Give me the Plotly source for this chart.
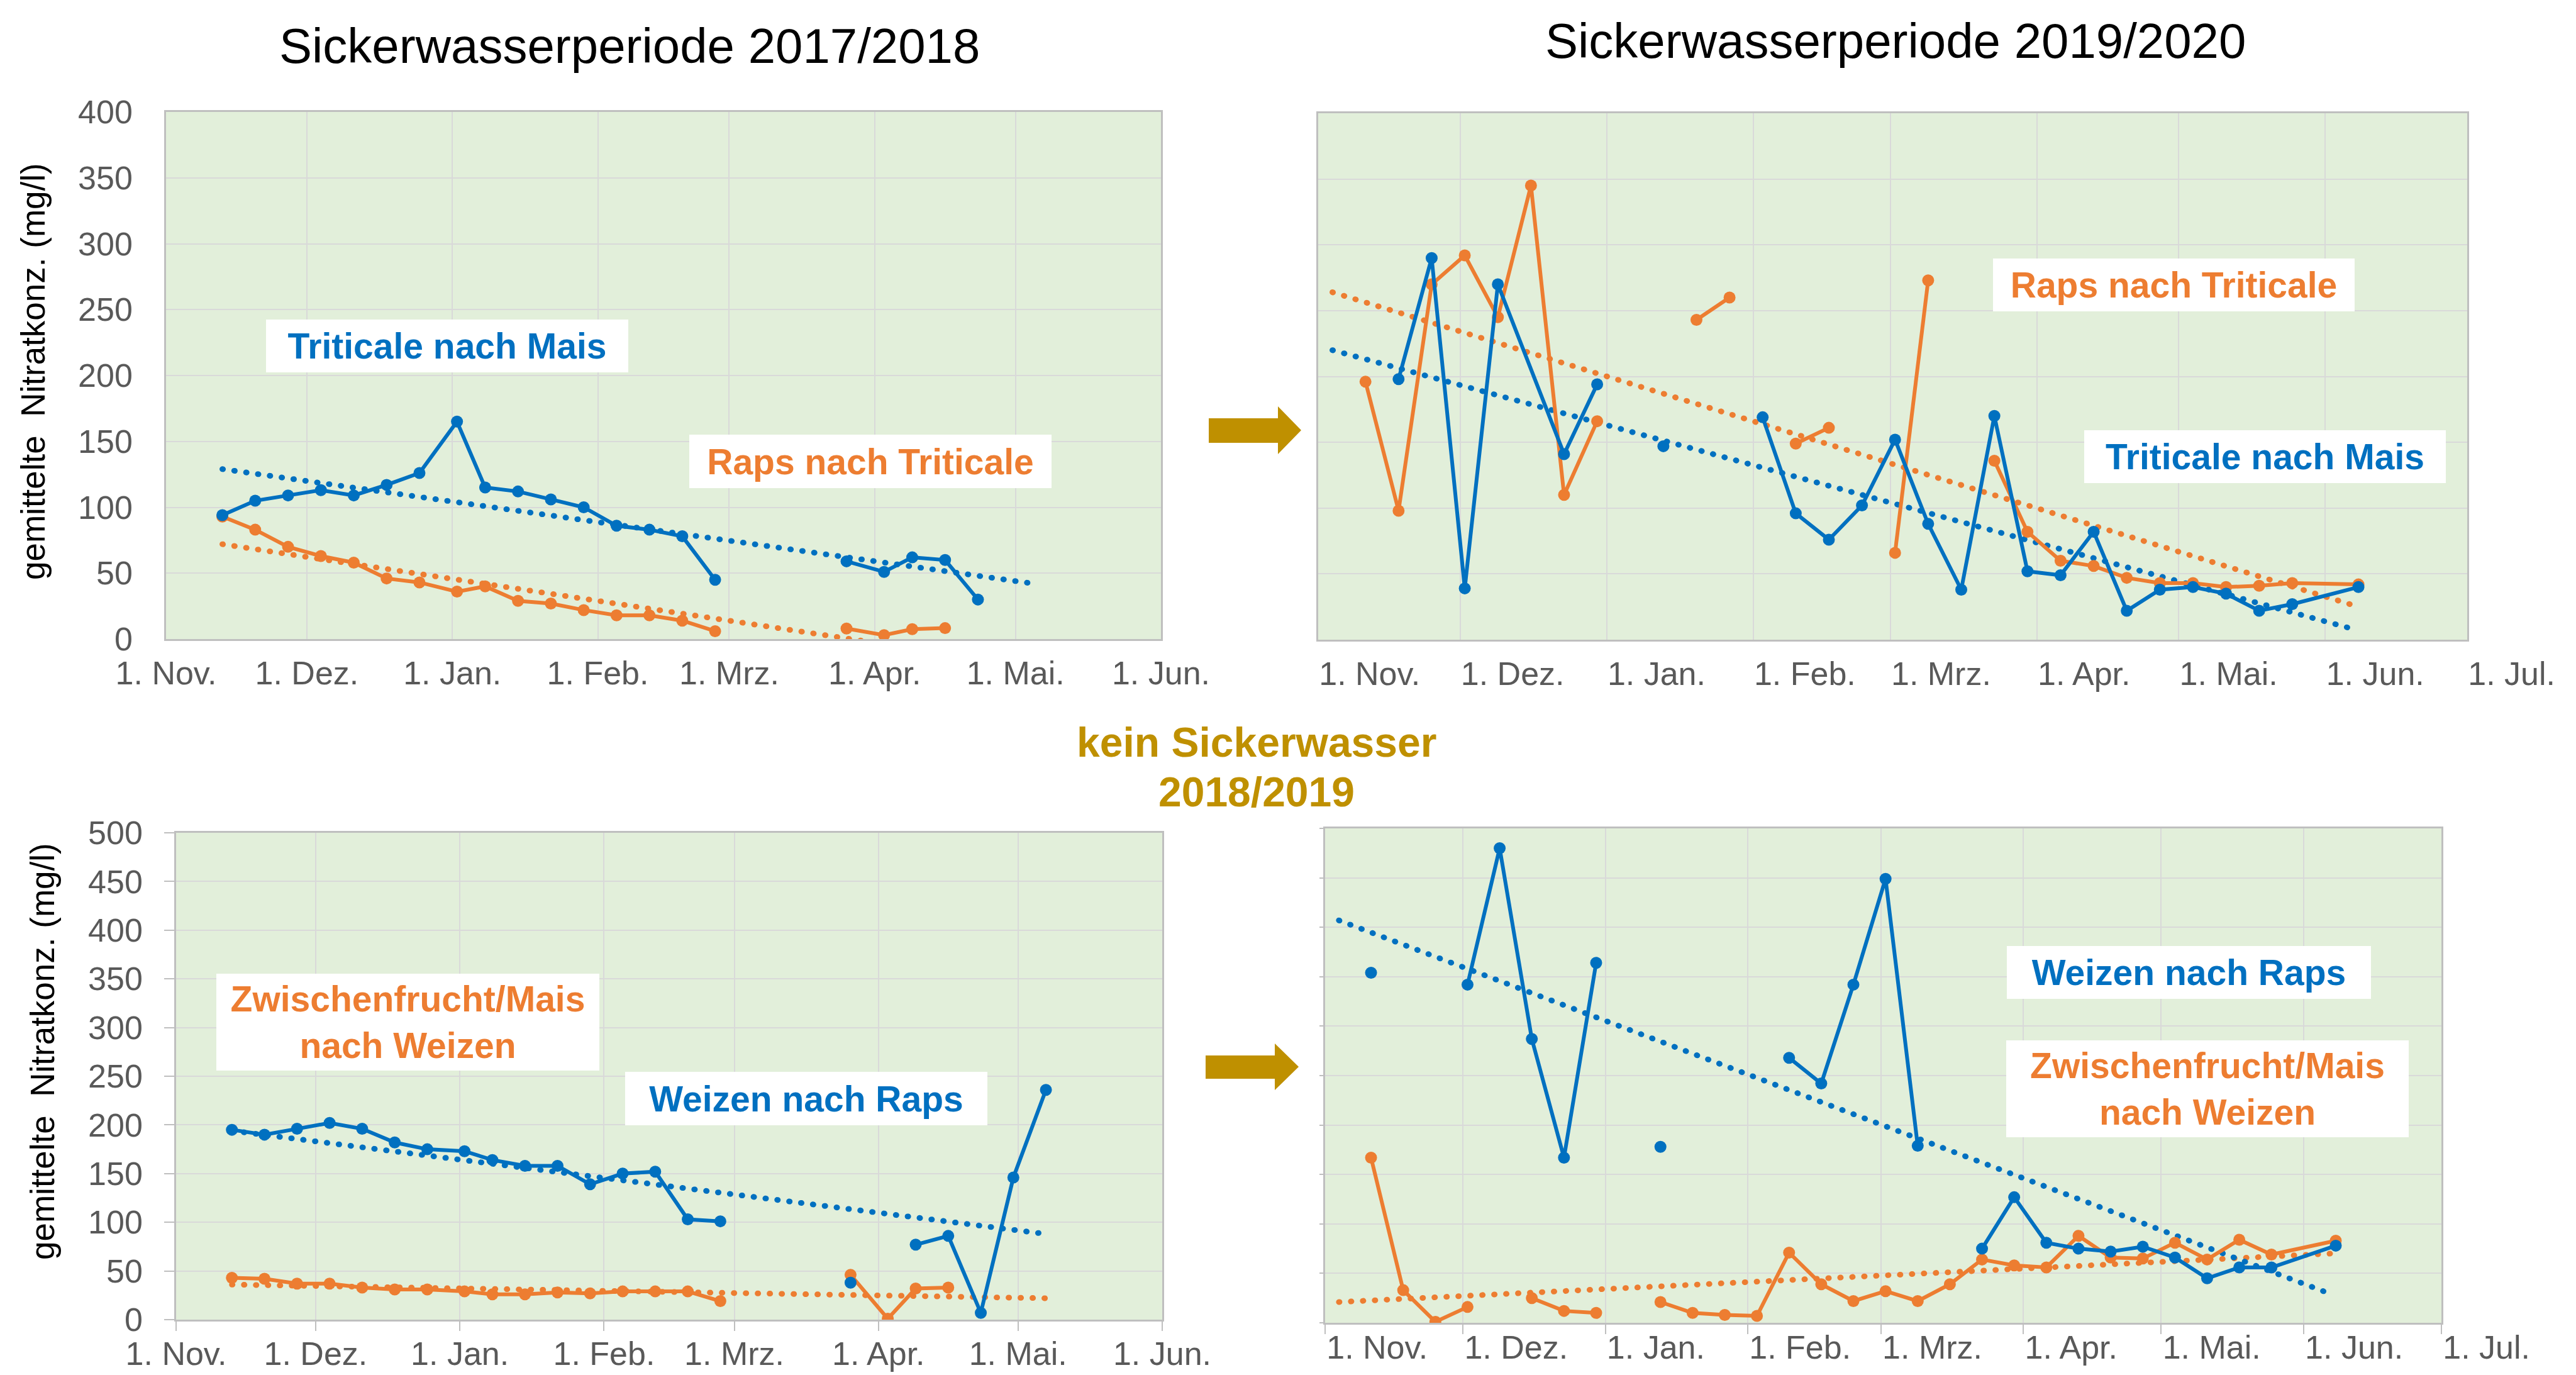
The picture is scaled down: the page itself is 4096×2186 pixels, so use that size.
import plotly.graph_objects as go

W, H = 4096, 2186
FONT = "Liberation Sans, Arial, sans-serif"
BLUE = "#0070C0"
ORANGE = "#ED7D31"
GOLD = "#BF9000"
GRID = "#D9D9D9"
AXLINE = "#BFBFBF"
TICKC = "#595959"
PLOTBG = "#E2EFDA"

# ---------------- data: Sickerwasserperiode 2017/2018 ----------------
dates_1718 = ["2017-11-13", "2017-11-20", "2017-11-27", "2017-12-04", "2017-12-11",
              "2017-12-18", "2017-12-25", "2018-01-02", "2018-01-08", "2018-01-15",
              "2018-01-22", "2018-01-29", "2018-02-05", "2018-02-12", "2018-02-19",
              "2018-02-26", "2018-03-05", "2018-03-12", "2018-03-19", "2018-03-26",
              "2018-04-03", "2018-04-09", "2018-04-16", "2018-04-23", "2018-04-30",
              "2018-05-07"]

p1_triticale = [94, 105, 109, 113, 109, 117, 126, 165, 115, 112, 106, 100, 86, 83, 78, 45,
                None, None, None, 59, 51, 62, 60, 30, None, None]
p1_raps = [93, 83, 70, 63, 58, 46, 43, 36, 40, 29, 27, 22, 18, 18, 14, 6,
           None, None, None, 8, 3, 7.5, 8.3, None, None, None]
p1_trend_dates = ["2017-11-13", "2018-05-05"]
p1_trend_triticale = [129, 42]
p1_trend_raps = [72, -21]

p3_weizen = [195, 190, 196, 202, 196, 182, 175, 173, 164, 158, 158, 139, 150, 152, 103, 101,
             None, None, None, 38, None, 77, 86, 7, 146, 236]
p3_zwf = [43, 42, 37, 37, 33, 31, 31, 29, 26, 26, 28, 27, 29, 29, 29, 19,
          None, None, None, 46, 1, 32, 33, None, None, None]
p3_trend_dates = ["2017-11-13", "2018-05-07"]
p3_trend_weizen = [194, 88]
p3_trend_zwf = [36, 22]

# ---------------- data: Sickerwasserperiode 2019/2020 ----------------
dates_1920 = ["2019-11-11", "2019-11-18", "2019-11-25", "2019-12-02", "2019-12-09",
              "2019-12-16", "2019-12-23", "2019-12-30", "2020-01-06", "2020-01-13",
              "2020-01-20", "2020-01-27", "2020-02-03", "2020-02-10", "2020-02-17",
              "2020-02-24", "2020-03-02", "2020-03-09", "2020-03-16", "2020-03-23",
              "2020-03-30", "2020-04-06", "2020-04-13", "2020-04-20", "2020-04-27",
              "2020-05-04", "2020-05-11", "2020-05-18", "2020-05-25", "2020-06-08"]

p2_raps = [196, 98, 270, 292, 245, 345, 110, 166, None, None, 243, 260, None, 149, 161,
           None, 66, 273, None, 136, 82, 60, 56, 47, 43, 43, 40, 41, 43, 42]
p2_triticale_dates = ["2019-11-18", "2019-11-25", "2019-12-02", "2019-12-09", "2019-12-23",
                      "2019-12-30", "2020-01-06", "2020-01-13", "2020-01-20", "2020-01-27",
                      "2020-02-03", "2020-02-10", "2020-02-17", "2020-02-24", "2020-03-02",
                      "2020-03-09", "2020-03-16", "2020-03-23", "2020-03-30", "2020-04-06",
                      "2020-04-13", "2020-04-20", "2020-04-27", "2020-05-04", "2020-05-11",
                      "2020-05-18", "2020-05-25", "2020-06-08"]
p2_triticale = [198, 290, 39, 270, 141, 194, None, 147, None, None, 169, 96, 76, 102, 152,
                88, 38, 170, 52, 49, 82, 22, 38, 40, 35, 22, 27, 40]
p2_trend_dates_raps = ["2019-11-04", "2020-06-08"]
p2_trend_raps = [264, 25]
p2_trend_dates_triticale = ["2019-11-04", "2020-06-07"]
p2_trend_triticale = [220, 8]

p4_weizen = [354, None, None, 342, 480, 287, 167, 364, None, 178, None, None, None, 268, 242,
             342, 449, 179, None, 75, 127, 81, 75, 72, 77, 66, 45, 56, 56, 78]
p4_zwf = [167, 33, 1, 16, None, 25, 12, 10, None, 21, 10, 8, 7, 71, 39,
          22, 32, 22, 39, 64, 58, 56, 88, 66, 65, 81, 64, 84, 69, 83]
p4_trend_dates = ["2019-11-04", "2020-06-07"]
p4_trend_weizen = [407, 29]
p4_trend_zwf = [21, 70]

# ---------------- axis ticks ----------------
months_1718 = ["2017-11-01", "2017-12-01", "2018-01-01", "2018-02-01", "2018-03-01",
               "2018-04-01", "2018-05-01", "2018-06-01"]
months_1920 = ["2019-11-01", "2019-12-01", "2020-01-01", "2020-02-01", "2020-03-01",
               "2020-04-01", "2020-05-01", "2020-06-01", "2020-07-01"]
month_labels = ["1. Nov.", "1. Dez.", "1. Jan.", "1. Feb.", "1. Mrz.", "1. Apr.",
                "1. Mai.", "1. Jun.", "1. Jul."]
yticks_400 = list(range(0, 401, 50))
yticks_500 = list(range(0, 501, 50))


def px(x):
    return x / W


def py(y):
    return 1 - y / H


fig = go.Figure()

TREND_DASH = "1px,18px"


def add_series(xa, ya, dates, vals, color):
    fig.add_trace(go.Scatter(x=dates, y=vals, xaxis=xa, yaxis=ya, mode="lines+markers",
                             line=dict(color=color, width=6), marker=dict(color=color, size=19),
                             connectgaps=False, showlegend=False, hoverinfo="skip"))


def add_trend(xa, ya, dates, vals, color):
    fig.add_trace(go.Scatter(x=dates, y=vals, xaxis=xa, yaxis=ya, mode="lines",
                             line=dict(color=color, width=9, dash=TREND_DASH),
                             showlegend=False, hoverinfo="skip"))


# panel 1
add_trend("x", "y", p1_trend_dates, p1_trend_raps, ORANGE)
add_trend("x", "y", p1_trend_dates, p1_trend_triticale, BLUE)
add_series("x", "y", dates_1718, p1_raps, ORANGE)
add_series("x", "y", dates_1718, p1_triticale, BLUE)
# panel 2
add_trend("x2", "y2", p2_trend_dates_raps, p2_trend_raps, ORANGE)
add_trend("x2", "y2", p2_trend_dates_triticale, p2_trend_triticale, BLUE)
add_series("x2", "y2", dates_1920, p2_raps, ORANGE)
add_series("x2", "y2", p2_triticale_dates, p2_triticale, BLUE)
# panel 3
add_trend("x3", "y3", p3_trend_dates, p3_trend_zwf, ORANGE)
add_trend("x3", "y3", p3_trend_dates, p3_trend_weizen, BLUE)
add_series("x3", "y3", dates_1718, p3_zwf, ORANGE)
add_series("x3", "y3", dates_1718, p3_weizen, BLUE)
# panel 4
add_trend("x4", "y4", p4_trend_dates, p4_trend_zwf, ORANGE)
add_trend("x4", "y4", p4_trend_dates, p4_trend_weizen, BLUE)
add_series("x4", "y4", dates_1920, p4_zwf, ORANGE)
add_series("x4", "y4", dates_1920, p4_weizen, BLUE)


def xaxis(domain, anchor, rng, months, ticks, pos):
    d = dict(domain=domain, anchor=anchor, type="date", range=rng, automargin=False,
             tickmode="array", tickvals=months, ticktext=month_labels[:len(months)],
             showgrid=True, gridcolor=GRID, gridwidth=1.5,
             showline=True, linecolor=AXLINE, linewidth=2.5, mirror=True,
             zeroline=False, tickfont=dict(family=FONT, size=52, color=TICKC),
             ticklabelposition=pos)
    if ticks:
        d.update(ticks="outside", ticklen=15, tickwidth=2, tickcolor=AXLINE, ticklabelstandoff=-8)
    else:
        d.update(ticks="", ticklabelstandoff=7)
    return d


def yaxis(domain, anchor, rng, vals, labels, ticklen):
    d = dict(domain=domain, anchor=anchor, range=rng, tickmode="array", tickvals=vals,
             automargin=False,
             showgrid=True, gridcolor=GRID, gridwidth=1.5,
             showline=True, linecolor=AXLINE, linewidth=2.5, mirror=True,
             zeroline=False, showticklabels=labels,
             tickfont=dict(family=FONT, size=52, color=TICKC))
    if ticklen:
        d.update(ticks="outside", ticklen=ticklen, tickwidth=2, tickcolor=AXLINE)
    else:
        d.update(ticks="")
    if labels:
        d.update(ticklabelstandoff=40 - ticklen)
    return d


fig.update_layout(
    template="none",
    width=W, height=H, margin=dict(l=0, r=0, t=0, b=0, pad=0, autoexpand=False),
    paper_bgcolor="white", plot_bgcolor=PLOTBG,
    font=dict(family=FONT),
    xaxis=xaxis([px(256), px(1838)], "y", ["2017-11-01", "2018-06-01"], months_1718, False, "outside"),
    yaxis=yaxis([py(1008), py(170)], "x", [0, 400], yticks_400, True, 0),
    xaxis2=xaxis([px(2088), px(3915)], "y2", ["2019-11-01", "2020-07-01"], months_1920, False, "outside right"),
    yaxis2=yaxis([py(1009), py(172)], "x2", [0, 400], yticks_400, False, 0),
    xaxis3=xaxis([px(272), px(1840)], "y3", ["2017-11-01", "2018-06-01"], months_1718, True, "outside"),
    yaxis3=yaxis([py(2090), py(1316)], "x3", [0, 500], yticks_500, True, 16),
    xaxis4=xaxis([px(2099), px(3874)], "y4", ["2019-11-01", "2020-07-01"], months_1920, True, "outside right"),
    yaxis4=yaxis([py(2095), py(1309)], "x4", [0, 500], yticks_500, False, 6),
)

ann = []


def text(x, y, s, size, color, bold=False, **kw):
    ann.append(dict(x=px(x), y=py(y), xref="paper", yref="paper", text=s, showarrow=False,
                    xanchor="center", yanchor="middle",
                    font=dict(family=FONT, size=size, color=color,
                              weight="bold" if bold else "normal"), **kw))


def box(x, y, w, h, s, color):
    text(x, y, s, 57, color, True, width=w, height=h, bgcolor="white", borderpad=0,
         borderwidth=0, align="center", valign="middle")


text(993, 65, "Sickerwasserperiode 2017/2018", 78, "black")
text(3006, 57, "Sickerwasserperiode 2019/2020", 78, "black")
text(1990, 1172, "kein Sickerwasser", 66, GOLD, True)
text(1990, 1251, "2018/2019", 66, GOLD, True)
text(44, 583, "gemittelte\u00a0 Nitratkonz. (mg/l)", 53, "black", textangle=-90)
text(59, 1664, "gemittelte\u00a0 Nitratkonz. (mg/l)", 53, "black", textangle=-90)

box(703, 542, 576, 84, "Triticale nach Mais", BLUE)
box(1376, 725, 576, 85, "Raps nach Triticale", ORANGE)
box(3448, 445, 575, 84, "Raps nach Triticale", ORANGE)
box(3593, 718, 575, 84, "Triticale nach Mais", BLUE)
box(640, 1617, 609, 154, "Zwischenfrucht/Mais<br>nach Weizen", ORANGE)
box(1274, 1738, 576, 85, "Weizen nach Raps", BLUE)
box(3472, 1538, 579, 84, "Weizen nach Raps", BLUE)
box(3502, 1723, 640, 154, "Zwischenfrucht/Mais<br>nach Weizen", ORANGE)

fig.update_layout(annotations=ann)


def arrow(x0, x1, xt, by0, by1, hy0, hy1):
    yt = (hy0 + hy1) / 2
    pts = [(x0, by0), (x1, by0), (x1, hy0), (xt, yt), (x1, hy1), (x1, by1), (x0, by1)]
    path = "M " + " L ".join(f"{px(a):.5f},{py(b):.5f}" for a, b in pts) + " Z"
    return dict(type="path", xref="paper", yref="paper", path=path,
                fillcolor=GOLD, line=dict(width=0), layer="above")


fig.update_layout(shapes=[
    arrow(1914, 2024, 2061, 657, 696, 638, 714),
    arrow(1909, 2019, 2057, 1670, 1707, 1651, 1725),
])

post = """
var gd = document.getElementById('{plot_id}');
function rc(){
  gd.querySelectorAll('path.js-line').forEach(function(p){
    var d = p.style.strokeDasharray || '';
    if (d.indexOf('1px') === 0) { p.style.strokeLinecap = 'round'; }
  });
}
rc();
gd.on('plotly_afterplot', rc);
"""

fig.write_html("out.html", post_script=post)
